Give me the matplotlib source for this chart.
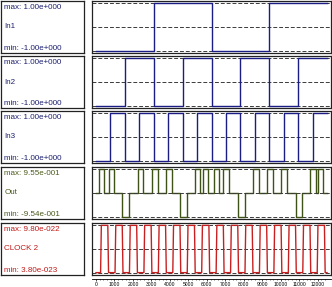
import numpy as np
import matplotlib
matplotlib.use('Agg')
import matplotlib.pyplot as plt

# ---- data ----
names = ['In1', 'In2', 'In3', 'Out', 'CLOCK 2']
max_labels = ['max: 1.00e+000', 'max: 1.00e+000', 'max: 1.00e+000', 'max: 9.55e-001', 'max: 9.80e-022']
min_labels = ['min: -1.00e+000', 'min: -1.00e+000', 'min: -1.00e+000', 'min: -9.54e-001', 'min: 3.80e-023']
y_max = [1.0, 1.0, 1.0, 0.955, 9.80e-22]
y_min = [-1.0, -1.0, -1.0, -0.954, 3.80e-23]

# square inputs: transition times and the level held after each one
in1_t = [0, 3125, 6250, 9375, 12500]
in1_v = [-1, 1, -1, 1]
in2_t = [0, 1562, 3125, 4688, 6250, 7812, 9375, 10938, 12500]
in2_v = [-1, 1, -1, 1, -1, 1, -1, 1]
in3_t = [0, 781, 1562, 2344, 3125, 3906, 4688, 5469, 6250, 7031, 7812,
         8594, 9375, 10156, 10938, 11719, 12500]
in3_v = [-1, 1, -1, 1, -1, 1, -1, 1, -1, 1, -1, 1, -1, 1, -1, 1]

# Out: pulses up to max and down to min, resting at 0
out_up = [(170, 430), (680, 960), (2280, 2570), (3030, 3330), (3800, 4090),
          (5340, 5640), (5800, 6080), (6390, 6660), (6890, 7190), (8490, 8800),
          (9250, 9560), (10020, 10330), (11600, 11900), (12010, 12290)]
out_down = [(1410, 1810), (4560, 4930), (7700, 8040), (10840, 11160)]

# clock: rising / falling edge times
clock_rise = [250, 1031, 1812, 2594, 3375, 4156, 4938, 5719, 6500, 7281,
              8062, 8844, 9625, 10406, 11188, 11969]
clock_fall = [640, 1421, 2202, 2984, 3765, 4546, 5328, 6109, 6890, 7671,
              8452, 9234, 10015, 10796, 11578, 12359]

t_end = 12500
tick_vals = list(range(0, 13000, 1000))

label_colors = ['#1b1f6e', '#1b1f6e', '#1b1f6e', '#4b5a1c', '#c01818']
line_colors = ['#1c1c86', '#1c1c86', '#1c1c86', '#3e5216', '#c82020']

W, H = 332, 287
fig = plt.figure(figsize=(W / 100, H / 100), dpi=100)
plt.rcParams['font.family'] = ['Liberation Sans', 'DejaVu Sans']


def px_axes(x0, y0, w, h):
    return fig.add_axes([x0 / W, 1 - (y0 + h) / H, w / W, h / H])


def step_xy(times, levels):
    xs, ys = [], []
    for i, v in enumerate(levels):
        xs += [times[i], times[i + 1]]
        ys += [v, v]
    return xs, ys


def pulse_xy(up, down, lo, hi, base):
    ev = sorted([(a, b, hi) for a, b in up] + [(a, b, lo) for a, b in down])
    xs, ys = [0], [base]
    for a, b, lev in ev:
        xs += [a, a, b, b]
        ys += [base, lev, lev, base]
    xs.append(t_end)
    ys.append(base)
    return xs, ys


def clock_xy(rise, fall, lo, hi, edge=40):
    xs, ys = [0], [lo]
    for r, f in zip(rise, fall):
        xs += [r, r + edge, f, f + edge]
        ys += [lo, hi, hi, lo]
    xs.append(t_end)
    ys.append(lo)
    return xs, ys


signals = [step_xy(in1_t, in1_v), step_xy(in2_t, in2_v), step_xy(in3_t, in3_v),
           pulse_xy(out_up, out_down, y_min[3], y_max[3], 0.0),
           clock_xy(clock_rise, clock_fall, y_min[4], y_max[4])]

row_tops = [1, 56, 111, 167, 223]
row_h = 52
x_lo, x_hi = -215, 12715

for i in range(5):
    top = row_tops[i]
    # label box
    lab = px_axes(1, top, 83, row_h)
    lab.set_xticks([])
    lab.set_yticks([])
    for s in lab.spines.values():
        s.set_linewidth(0.9)
        s.set_color('#222222')
    c = label_colors[i]
    lab.text(0.04, 0.88, max_labels[i], transform=lab.transAxes, fontsize=5.8,
             color=c, va='center', ha='left')
    lab.text(0.04, 0.5, names[i], transform=lab.transAxes, fontsize=5.8,
             color=c, va='center', ha='left')
    lab.text(0.04, 0.09, min_labels[i], transform=lab.transAxes, fontsize=5.8,
             color=c, va='center', ha='left')

    # signal box
    ax = px_axes(92, top, 239, row_h)
    lo, hi = y_min[i], y_max[i]
    pad = 0.05 * (hi - lo)
    mid = 0.0 if i < 4 else (lo + hi) / 2
    xs, ys = signals[i]
    ax.plot(xs, ys, color=line_colors[i], lw=1.0, zorder=2)
    for yv in (lo, mid, hi):
        ax.axhline(yv, color='#3a3a3a', lw=0.7, ls=(0, (4, 2)), zorder=3 if i == 3 and yv == mid else 1)
    ax.set_xlim(x_lo, x_hi)
    ax.set_ylim(lo - pad, hi + pad)
    ax.set_xticks([])
    ax.set_yticks([])
    for s in ax.spines.values():
        s.set_linewidth(0.9)
        s.set_color('#222222')

# time axis under the last row
tax = px_axes(92, 278, 239, 1)
tax.set_xlim(x_lo, x_hi)
tax.set_yticks([])
for k in ('top', 'left', 'right'):
    tax.spines[k].set_visible(False)
tax.spines['bottom'].set_linewidth(0.6)
tax.set_xticks(tick_vals)
tax.set_xticklabels([str(v) for v in tick_vals])
tax.set_xticks(list(range(0, 12600, 200)), minor=True)
tax.tick_params(axis='x', which='major', labelsize=3.6, length=1.5, width=0.5, pad=0.6)
tax.tick_params(axis='x', which='minor', length=0.8, width=0.4)
tax.patch.set_alpha(0)

fig.savefig('out.png', dpi=100)
